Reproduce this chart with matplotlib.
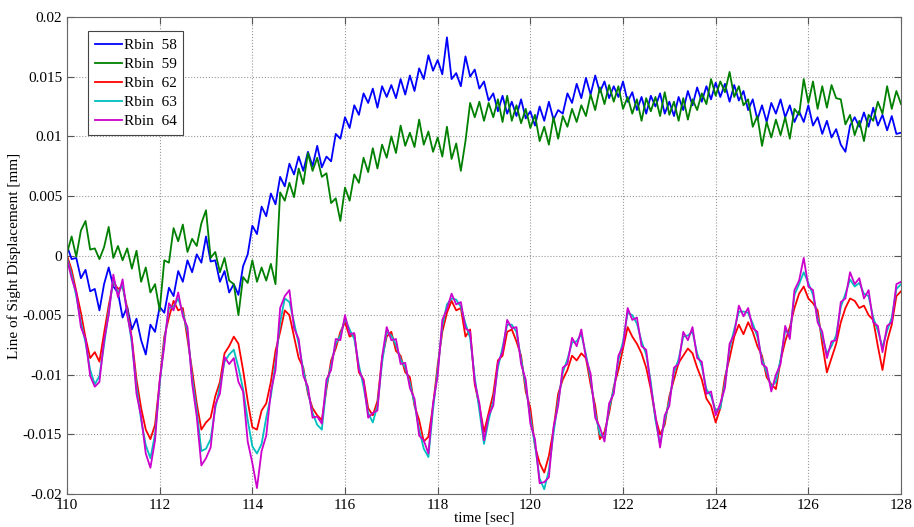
import numpy as np
import matplotlib
matplotlib.use("Agg")
import matplotlib.pyplot as plt

# time axis, one sample every 0.1 s
t0, dt = 110.0, 0.1

# line of sight displacement, in micrometres
rbin58 = [
    0.8, -0.3, -0.2, -1.9, -1.2, -3.0, -2.8, -4.6, -2.4, -1.0,
    -2.6, -3.1, -5.2, -4.3, -6.2, -5.3, -7.1, -8.3, -5.8, -6.4,
    -4.3, -4.8, -2.7, -3.4, -1.3, -2.2, -0.4, -1.4, 0.1, -0.6,
    1.6, -0.5, -0.4, -2.2, -1.3, -3.1, -2.4, -3.3, -0.9, 0.1,
    2.5, 1.8, 4.1, 3.3, 5.2, 4.3, 6.6, 5.8, 7.7, 6.8,
    8.3, 7.1, 8.7, 7.5, 9.2, 7.4, 8.3, 7.9, 10.2, 9.8,
    11.6, 10.7, 12.6, 11.8, 13.6, 12.8, 14.0, 12.4, 14.2, 13.3,
    14.3, 13.2, 14.8, 13.5, 15.1, 13.8, 15.7, 14.8, 16.8, 15.5,
    16.4, 15.2, 18.3, 14.8, 15.3, 14.2, 16.7, 15.0, 15.6, 14.0,
    14.6, 13.0, 13.6, 12.1, 13.4, 11.9, 12.9, 11.7, 13.1, 11.5,
    12.1, 10.9, 12.5, 11.3, 12.9, 11.4, 12.2, 11.9, 13.6, 12.8,
    14.4, 13.2, 14.9, 13.5, 15.1, 13.7, 14.6, 13.2, 14.2, 13.3,
    14.6, 12.9, 13.7, 12.2, 13.3, 11.9, 13.4, 12.5, 13.6, 11.9,
    12.9, 11.7, 13.3, 12.2, 13.8, 12.6, 14.1, 12.9, 14.2, 13.1,
    14.5, 13.3, 14.4, 12.9, 14.3, 13.0, 13.8, 12.2, 13.1, 11.4,
    12.6, 11.2, 12.8, 11.9, 13.1, 11.6, 12.6, 11.2, 12.1, 11.2,
    12.6, 10.9, 11.6, 10.2, 11.3, 9.9, 10.6, 9.3, 8.7, 10.9,
    11.6, 10.8, 12.0, 10.8, 12.4, 10.9, 11.8, 10.5, 11.7, 10.2,
    10.3,
]
rbin59 = [
    0.2, 1.6, -0.1, 2.1, 2.9, 0.5, 0.6, -0.3, 0.7, 2.4,
    -0.2, 0.8, -0.4, 0.6, -1.1, 0.4, -2.2, -1.0, -3.1, -2.4,
    -4.6, -0.4, -0.6, 2.3, 1.2, 2.6, 0.3, 1.4, 0.8, 2.7,
    3.8, -0.2, 0.3, -1.4, -0.2, -2.1, -2.4, -5.0, -1.8, -2.3,
    -0.4, -2.2, -1.0, -2.1, -0.7, -2.4, 5.3, 4.6, 6.1, 4.9,
    7.3, 6.0, 8.6, 7.1, 8.2, 6.6, 6.9, 4.4, 4.8, 2.9,
    5.7, 4.6, 6.8, 6.1, 8.2, 7.0, 9.0, 7.3, 9.3, 8.2,
    10.0, 8.6, 10.9, 9.2, 10.3, 9.1, 11.4, 9.3, 10.4, 8.7,
    9.9, 8.3, 10.8, 8.1, 9.4, 7.1, 9.6, 12.8, 11.6, 12.9,
    11.3, 12.8, 11.6, 13.1, 11.2, 13.4, 11.3, 12.6, 11.1, 12.3,
    10.7, 11.8, 9.6, 10.8, 9.3, 11.6, 9.8, 11.7, 10.8, 12.3,
    11.2, 12.6, 11.7, 13.5, 12.2, 14.1, 12.7, 14.3, 12.9, 14.2,
    12.3, 13.3, 11.9, 13.1, 11.3, 13.2, 12.1, 13.3, 11.7, 13.7,
    11.8, 12.9, 11.3, 13.2, 11.4, 13.1, 12.2, 13.6, 12.7, 14.8,
    13.4, 14.6, 13.7, 15.4, 13.3, 14.2, 12.6, 13.1, 10.8, 11.7,
    9.2, 11.2, 9.9, 11.4, 10.1, 11.6, 9.8, 12.3, 11.8, 14.8,
    12.8, 14.6, 12.3, 14.2, 12.4, 14.3, 13.2, 13.1, 11.0, 11.8,
    10.1, 11.3, 9.6, 11.8, 11.3, 12.9, 11.9, 14.2, 12.3, 13.8,
    12.7,
]
rbin62 = [
    0.0, -1.2, -3.0, -4.8, -6.9, -8.6, -8.1, -8.9, -6.5, -4.2,
    -2.2, -2.8, -2.6, -4.4, -7.0, -10.4, -12.8, -14.6, -15.4, -14.2,
    -10.6, -6.8, -5.2, -3.8, -4.6, -4.4, -7.0, -9.6, -12.4, -14.6,
    -14.0, -13.6, -11.8, -10.6, -8.2, -7.6, -6.8, -7.4, -9.6, -12.2,
    -14.4, -14.6, -13.0, -12.4, -10.6, -8.0, -6.4, -4.6, -5.0, -6.8,
    -8.6, -9.4, -11.6, -12.8, -13.4, -13.8, -11.2, -8.8, -7.8, -6.4,
    -5.6, -6.8, -6.6, -9.8, -10.4, -12.8, -13.4, -12.2, -8.6, -6.8,
    -6.4, -8.0, -8.4, -9.8, -10.2, -12.6, -13.8, -15.6, -15.2, -12.6,
    -9.2, -6.4, -4.8, -3.8, -4.6, -4.4, -6.8, -6.2, -10.8, -12.6,
    -14.8, -13.2, -11.6, -8.8, -8.4, -6.4, -6.2, -7.2, -8.4, -11.4,
    -12.8, -16.0, -17.4, -18.2, -16.8, -14.6, -11.6, -10.4, -9.6, -8.4,
    -8.8, -8.2, -8.6, -10.8, -12.6, -15.4, -14.8, -13.2, -11.0, -9.6,
    -7.8, -6.0, -6.8, -7.4, -8.2, -9.4, -11.2, -13.6, -15.0, -14.2,
    -11.8, -10.4, -9.0, -8.4, -7.8, -8.2, -9.4, -10.4, -12.0, -12.6,
    -14.0, -12.8, -10.2, -8.6, -6.8, -5.8, -6.6, -5.6, -6.4, -7.6,
    -8.4, -10.2, -10.8, -11.2, -8.8, -7.2, -6.0, -4.4, -3.2, -2.6,
    -3.6, -4.0, -4.6, -7.4, -9.8, -8.6, -7.4, -5.6, -4.4, -3.6,
    -3.8, -4.4, -4.2, -5.0, -5.4, -7.6, -9.6, -7.2, -5.8, -3.4,
    -3.0,
]
rbin63 = [
    -0.2, -1.6, -3.4, -5.6, -7.3, -9.6, -10.8, -10.1, -7.5, -4.7,
    -2.0, -3.1, -2.5, -4.7, -7.4, -11.0, -13.8, -15.9, -17.0, -15.0,
    -10.8, -7.2, -4.4, -4.3, -3.6, -4.8, -6.4, -10.2, -13.0, -16.4,
    -16.2, -15.4, -12.8, -11.0, -8.9, -8.3, -7.9, -9.4, -11.2, -13.8,
    -16.0, -16.6, -15.8, -13.6, -11.8, -9.0, -5.6, -3.6, -3.9, -5.6,
    -7.4, -9.6, -11.4, -13.2, -14.2, -14.6, -10.9, -9.2, -7.4, -6.7,
    -5.3, -6.2, -7.0, -9.2, -11.0, -13.2, -14.0, -12.6, -9.0, -6.4,
    -6.7, -7.5, -8.7, -9.4, -10.7, -12.4, -14.6, -16.2, -16.9, -12.9,
    -9.6, -5.9, -4.1, -3.6, -3.7, -4.3, -5.7, -6.9, -10.2, -13.0,
    -15.8, -13.8, -12.2, -9.4, -7.7, -5.8, -5.8, -6.4, -8.7, -10.9,
    -13.6, -15.9, -18.7, -19.6, -18.0, -14.9, -12.2, -9.8, -8.7, -7.3,
    -7.2, -6.6, -8.3, -10.3, -13.2, -15.0, -15.3, -12.8, -11.2, -8.8,
    -7.2, -4.8, -5.0, -5.7, -7.2, -8.3, -10.6, -13.8, -15.8, -13.8,
    -12.2, -9.8, -8.7, -6.8, -6.7, -6.4, -8.2, -9.3, -11.2, -11.8,
    -13.0, -12.8, -10.7, -7.8, -6.2, -4.7, -4.7, -4.8, -5.7, -6.8,
    -8.7, -9.8, -11.0, -10.6, -8.7, -6.3, -6.6, -3.3, -2.4, -1.4,
    -2.3, -3.3, -5.2, -6.8, -8.2, -7.6, -6.7, -4.3, -3.2, -2.0,
    -2.6, -2.3, -3.2, -3.4, -5.2, -6.3, -7.7, -6.3, -5.2, -2.8,
    -2.4,
]
rbin64 = [
    -0.3, -1.9, -3.1, -6.0, -7.0, -10.1, -11.0, -10.6, -7.1, -5.0,
    -1.6, -3.5, -2.0, -5.0, -7.0, -11.6, -13.5, -16.6, -17.8, -15.5,
    -10.5, -7.6, -4.0, -4.6, -3.1, -5.1, -6.0, -10.7, -13.5, -17.6,
    -17.0, -16.1, -12.5, -11.6, -8.5, -9.1, -8.6, -10.6, -11.4, -15.6,
    -17.4, -19.5, -16.4, -15.1, -11.4, -9.6, -4.4, -3.4, -2.9, -6.1,
    -7.0, -10.1, -11.0, -13.6, -13.5, -14.1, -10.4, -9.6, -7.0, -7.1,
    -5.0, -6.6, -6.5, -9.6, -10.5, -13.6, -13.2, -13.0, -8.5, -6.0,
    -7.1, -7.0, -9.1, -9.0, -11.1, -12.0, -15.1, -15.5, -16.6, -12.4,
    -10.1, -5.4, -4.5, -3.2, -4.1, -3.9, -6.1, -6.4, -10.6, -12.4,
    -15.5, -13.4, -12.6, -9.0, -8.1, -5.4, -6.1, -6.0, -9.1, -10.4,
    -14.1, -15.4, -19.1, -19.0, -18.6, -14.4, -12.6, -9.4, -9.1, -6.9,
    -7.6, -6.2, -8.6, -9.9, -13.6, -14.4, -15.6, -12.4, -11.6, -8.4,
    -7.6, -4.4, -5.4, -5.2, -7.6, -7.9, -11.0, -13.4, -16.1, -13.4,
    -12.6, -9.4, -9.1, -6.4, -7.1, -6.0, -8.6, -8.9, -11.6, -11.4,
    -13.4, -12.4, -11.1, -7.4, -6.6, -4.2, -5.1, -4.4, -6.1, -6.4,
    -9.1, -9.4, -11.4, -10.0, -9.1, -5.9, -7.0, -2.9, -2.1, -0.2,
    -2.6, -2.9, -5.6, -6.4, -8.6, -7.2, -7.1, -3.9, -3.6, -1.4,
    -2.4, -1.9, -3.6, -2.9, -5.6, -5.9, -8.1, -5.9, -5.6, -2.4,
    -2.2,
]

series = [
    ("Rbin  58", rbin58, (0, 0, 1)),
    ("Rbin  59", rbin59, (0, 0.5, 0)),
    ("Rbin  62", rbin62, (1, 0, 0)),
    ("Rbin  63", rbin63, (0, 0.75, 0.75)),
    ("Rbin  64", rbin64, (0.8, 0, 0.8)),
]

plt.rcParams["font.family"] = ["Liberation Serif", "DejaVu Serif"]
plt.rcParams["axes.unicode_minus"] = False

fig = plt.figure(figsize=(9.14, 5.27), dpi=100)
ax = fig.add_axes([0.0733, 0.0626, 0.9125, 0.905])

for lab, vals, col in series:
    t = t0 + dt * np.arange(len(vals))
    ax.plot(t, np.array(vals) / 1000.0, color=col, lw=1.3, label=lab)

ax.set_xlim(110, 128)
ax.set_ylim(-0.02, 0.02)
ax.set_xticks(np.arange(110, 129, 2))
yt = [-0.02, -0.015, -0.01, -0.005, 0, 0.005, 0.01, 0.015, 0.02]
ax.set_yticks(yt)
ax.set_yticklabels(["-0.02", "-0.015", "-0.01", "-0.005", "0", "0.005", "0.01", "0.015", "0.02"])
ax.tick_params(direction="in", top=True, right=True, labelsize=11, length=5, color="#555555")
ax.grid(True, linestyle=":", color="#999999", lw=0.8)
for s in ax.spines.values():
    s.set_color("#666666")

ax.set_xlabel("time [sec]", fontsize=11, labelpad=0)
ax.set_ylabel("Line of Sight Displacement [mm]", fontsize=11, labelpad=1)

leg = ax.legend(loc="upper left", bbox_to_anchor=(0.025, 0.97), borderaxespad=0,
                fancybox=False, framealpha=1, edgecolor="#444444", fontsize=11,
                handlelength=1.8, handletextpad=0.1, labelspacing=0.35,
                borderpad=0.45)
leg.get_frame().set_linewidth(0.8)

fig.savefig("out.png", dpi=100)
